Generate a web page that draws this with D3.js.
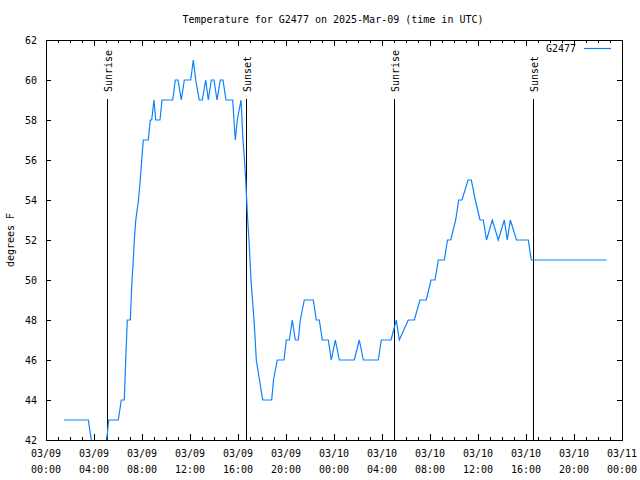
<!DOCTYPE html>
<html>
<head>
<meta charset="utf-8">
<script src="https://cdn.jsdelivr.net/npm/d3@7"></script>
<style>
  html, body { margin: 0; padding: 0; background: #fff; }
  svg { display: block; }
  text { font-family: "DejaVu Sans Mono", monospace; font-size: 10px; fill: #000; }
</style>
</head>
<body>
<svg id="chart" width="640" height="480"></svg>
<script>
// ---- data (hours since 2025-03-09 00:00 UTC, temperature °F) ----
const hours = [1.500, 3.525, 3.775, 3.858, 5.000, 5.058, 5.225, 6.025, 6.275, 6.525,
  6.642, 6.775, 7.025, 7.167, 7.275, 7.358, 7.483, 7.708, 7.858, 7.975,
  8.108, 8.525, 8.692, 8.808, 9.000, 9.142, 9.250, 9.500, 9.667, 10.558,
  10.775, 11.000, 11.275, 11.525, 12.058, 12.275, 12.475, 12.775, 13.025, 13.308,
  13.525, 13.775, 14.000, 14.250, 14.525, 14.750, 15.000, 15.558, 15.775, 15.942,
  16.250, 16.417, 16.542, 16.642, 16.725, 16.808, 16.917, 17.000, 17.083, 17.208,
  17.333, 17.433, 17.525, 17.792, 18.058, 18.808, 18.958, 19.275, 19.833, 20.025,
  20.275, 20.525, 20.775, 21.025, 21.192, 21.525, 22.275, 22.525, 22.775, 23.025,
  23.525, 23.775, 24.108, 24.442, 25.692, 26.108, 26.442, 27.692, 27.942, 28.750,
  29.192, 29.442, 30.192, 30.692, 31.167, 31.692, 32.083, 32.417, 32.692, 33.192,
  33.458, 33.725, 34.142, 34.392, 34.667, 35.167, 35.442, 35.775, 36.167, 36.442,
  36.708, 37.192, 37.692, 38.192, 38.442, 38.692, 39.208, 40.192, 40.442, 46.725];
const temps = [43, 43, 42, 41, 41, 42, 43, 43, 44, 44,
  46, 48, 48, 50, 51, 52, 53, 54, 55, 56,
  57, 57, 58, 58, 59, 58, 58, 58, 59, 59,
  60, 60, 59, 60, 60, 61, 60, 59, 59, 60,
  59, 60, 60, 59, 60, 60, 59, 59, 57, 58,
  59, 57, 56, 55, 54, 53, 52, 51, 50, 49,
  48, 47, 46, 45, 44, 44, 45, 46, 46, 47,
  47, 48, 47, 47, 48, 49, 49, 48, 48, 47,
  47, 46, 47, 46, 46, 47, 46, 46, 47, 47,
  48, 47, 48, 48, 49, 49, 50, 50, 51, 51,
  52, 52, 53, 54, 54, 55, 55, 54, 53, 53,
  52, 53, 52, 53, 52, 53, 52, 52, 51, 51];
const sunLabels = ["Sunrise", "Sunset", "Sunrise", "Sunset"];
const sunHours = [5.108, 16.642, 29.025, 40.608];
const xTickHours = [0, 4, 8, 12, 16, 20, 24, 28, 32, 36, 40, 44, 48];
const yTicks = [42, 44, 46, 48, 50, 52, 54, 56, 58, 60, 62];
const seriesName = "G2477";
const titleText = "Temperature for G2477 on 2025-Mar-09 (time in UTC)";
const yLabel = "degrees F";

// ---- layout ----
const L = 46, R = 622, T = 40, B = 440;
const base = Date.UTC(2025, 2, 9);
const toDate = h => new Date(base + h * 3600 * 1000);

const svg = d3.select("#chart");
const x = d3.scaleUtc().domain([toDate(0), toDate(48)]).range([L, R]);
const y = d3.scaleLinear().domain([42, 62]).range([B, T]);

const fmtDay = d3.utcFormat("%m/%d");
const fmtTime = d3.utcFormat("%H:%M");

// clip
svg.append("clipPath").attr("id", "plotclip")
  .append("rect").attr("x", L).attr("y", T).attr("width", R - L).attr("height", B - T);

// minor ticks (hourly) top & bottom
const minorHours = d3.range(0, 49, 1).filter(h => h % 4 !== 0);
const tickG = svg.append("g").attr("stroke", "#000").attr("stroke-width", 1).attr("shape-rendering", "crispEdges");
minorHours.forEach(h => {
  const xx = Math.round(x(toDate(h))) + 0.5;
  tickG.append("line").attr("x1", xx).attr("x2", xx).attr("y1", B).attr("y2", B - 3);
  tickG.append("line").attr("x1", xx).attr("x2", xx).attr("y1", T).attr("y2", T + 3);
});

// major x ticks via axes
const xAxisB = d3.axisBottom(x).tickValues(xTickHours.map(toDate)).tickSize(-6).tickFormat("");
const xAxisT = d3.axisTop(x).tickValues(xTickHours.map(toDate)).tickSize(-6).tickFormat("");
const yAxisL = d3.axisLeft(y).tickValues(yTicks).tickSize(-5).tickPadding(9).tickFormat(d3.format("d"));
const yAxisR = d3.axisRight(y).tickValues(yTicks).tickSize(-5).tickFormat("");

function styleAxis(g) {
  g.select(".domain").remove();
  g.selectAll(".tick line").attr("stroke", "#000").attr("shape-rendering", "crispEdges");
  g.selectAll("text").attr("font-family", "DejaVu Sans Mono, monospace").attr("font-size", 10).attr("fill", "#000");
}
svg.append("g").attr("transform", `translate(0,${B})`).call(xAxisB).call(styleAxis);
svg.append("g").attr("transform", `translate(0,${T})`).call(xAxisT).call(styleAxis);
svg.append("g").attr("transform", `translate(${L},0)`).call(yAxisL).call(styleAxis);
svg.append("g").attr("transform", `translate(${R},0)`).call(yAxisR).call(styleAxis);

// x tick labels (two lines)
const xl = svg.append("g");
xTickHours.forEach(h => {
  const d = toDate(h);
  const t = xl.append("text").attr("text-anchor", "middle").attr("x", x(d));
  t.append("tspan").attr("x", x(d)).attr("y", 457).text(fmtDay(d));
  t.append("tspan").attr("x", x(d)).attr("y", 473).text(fmtTime(d));
});

// sunrise / sunset lines
const sunG = svg.append("g");
sunHours.forEach((h, i) => {
  const xx = Math.round(x(toDate(h))) + 0.5;
  sunG.append("line").attr("x1", xx).attr("x2", xx).attr("y1", 99).attr("y2", B)
    .attr("stroke", "#000").attr("stroke-width", 1.2).attr("shape-rendering", "crispEdges");
  sunG.append("text").attr("transform", `translate(${xx + 4},92) rotate(-90)`)
    .attr("text-anchor", "start").text(sunLabels[i]);
});

// data line
const pts = hours.map((h, i) => [toDate(h), temps[i]]);
svg.append("path").datum(pts)
  .attr("clip-path", "url(#plotclip)")
  .attr("fill", "none").attr("stroke", "#0a80ff").attr("stroke-width", 1.2)
  .attr("stroke-linejoin", "miter")
  .attr("d", d3.line().x(d => x(d[0])).y(d => y(d[1])));

// frame
svg.append("rect").attr("x", L + 0.5).attr("y", T + 0.5).attr("width", R - L).attr("height", B - T)
  .attr("fill", "none").attr("stroke", "#000").attr("stroke-width", 1).attr("shape-rendering", "crispEdges");

// title
svg.append("text").attr("x", 333).attr("y", 23).attr("text-anchor", "middle").text(titleText);

// y label
svg.append("text").attr("transform", "translate(14,240) rotate(-90)").attr("text-anchor", "middle").text(yLabel);

// legend
svg.append("text").attr("x", 576).attr("y", 52).attr("text-anchor", "end").text(seriesName);
svg.append("line").attr("x1", 584).attr("x2", 611).attr("y1", 48.5).attr("y2", 48.5)
  .attr("stroke", "#0a80ff").attr("stroke-width", 1.2);
</script>
</body>
</html>
